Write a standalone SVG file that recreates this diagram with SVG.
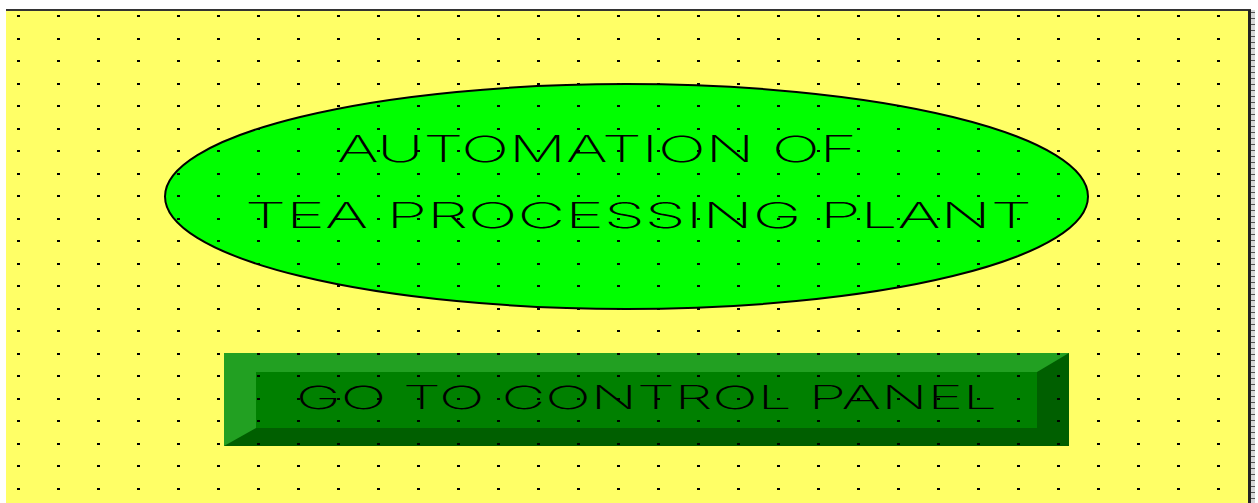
<svg xmlns="http://www.w3.org/2000/svg" width="1258" height="503" viewBox="0 0 1258 503">
  <style>
    .lbl { font-family: "Inter", "Roboto", "Liberation Sans", sans-serif; font-weight: 200; fill: #000; }
  </style>
  <defs>
    <pattern id="grid" patternUnits="userSpaceOnUse" x="0" y="0" width="40" height="45">
      <rect x="17" y="15" width="3" height="2" fill="#000"/>
      <rect x="17" y="38" width="3" height="2" fill="#000"/>
    </pattern>
    <pattern id="edge" patternUnits="userSpaceOnUse" x="0" y="0" width="4" height="6">
      <rect x="0" y="0" width="4" height="6" fill="#d8d8d8"/>
      <rect x="0" y="0" width="4" height="1" fill="#555"/>
    </pattern>
  </defs>
  <rect x="0" y="0" width="1258" height="503" fill="#ffffff"/>
  <g id="background">
    <rect x="6" y="10" width="1243" height="493" fill="#ffff66"/>
    <rect x="6" y="9" width="1245" height="2" fill="#333"/>
    <rect x="1248" y="10" width="3" height="493" fill="#222"/>
    <rect x="1251" y="10" width="4" height="493" fill="url(#edge)"/>
  </g>
  <g id="title">
    <ellipse cx="626.5" cy="196.5" rx="461.5" ry="112.5" fill="#00ff00" stroke="#000" stroke-width="2"/>
    <text class="lbl" x="337" y="162" font-size="36" textLength="520" lengthAdjust="spacingAndGlyphs">AUTOMATION OF</text>
    <text class="lbl" x="245" y="228" font-size="35" textLength="787" lengthAdjust="spacingAndGlyphs">TEA PROCESSING PLANT</text>
  </g>
  <g id="button">
    <rect x="224" y="353" width="845" height="93" fill="#005f00"/>
    <polygon points="224,353 1069,353 1037,372 256,372 256,428 224,446" fill="#22a022"/>
    <rect x="256" y="372" width="781" height="56" fill="#008000"/>
    <text class="lbl" x="296" y="409" font-size="32" textLength="701" lengthAdjust="spacingAndGlyphs">GO TO CONTROL PANEL</text>
  </g>
  <g id="connectors"/>
  <rect x="6" y="11" width="1242" height="492" fill="url(#grid)"/>
</svg>
